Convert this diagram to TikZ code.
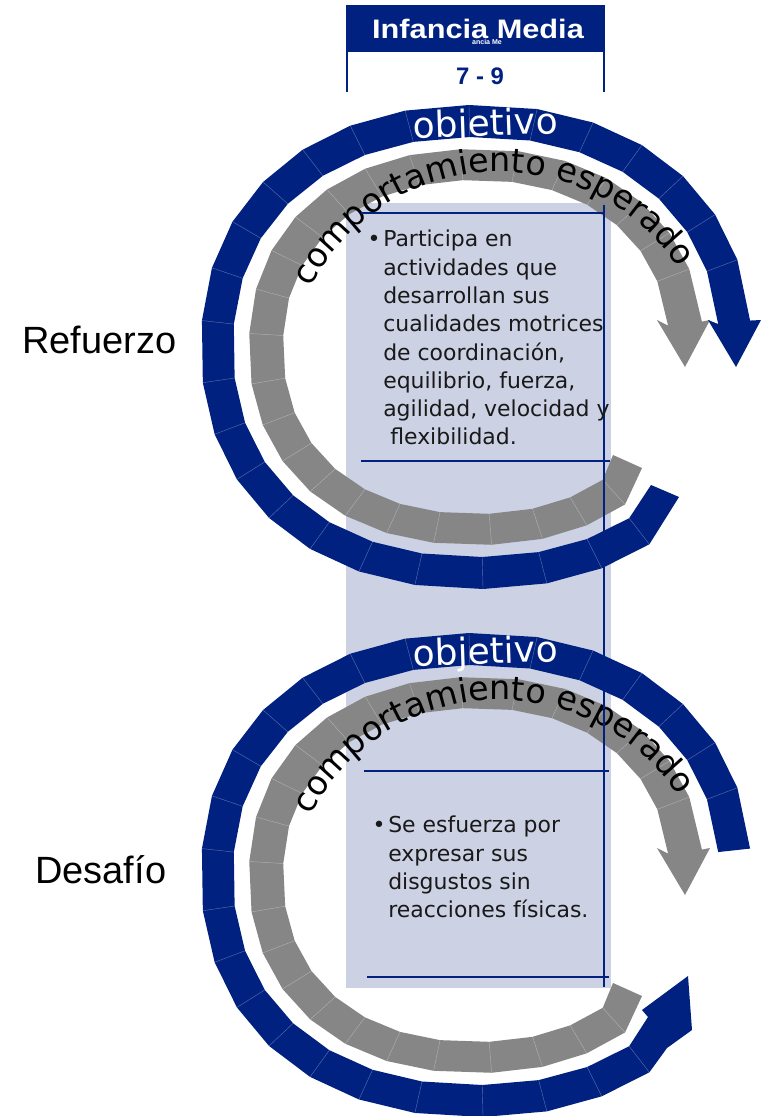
\documentclass[tikz,border=0pt]{standalone}
\usepackage{fontspec}
\setmainfont{DejaVu Sans}
\newfontfamily\labelfont{Liberation Sans}
\usepackage{tikz}
\usetikzlibrary{positioning,decorations.text}
\definecolor{navy}{RGB}{0,33,128}
\definecolor{band}{RGB}{134,134,134}
\definecolor{panel}{RGB}{204,210,228}

\begin{document}
\begin{tikzpicture}[x=0.025cm, y=0.025cm,
    declare function={sx(\t)=(cos(\t)<0 ? -1 : 1)*abs(cos(\t))^0.909;
                      sy(\t)=(sin(\t)<0 ? -1 : 1)*abs(sin(\t))^0.909;},
    seam/.style={white, opacity=0.35, line width=0.3pt},
    rule/.style={navy, line width=1.5pt},
    bullets/.style={anchor=north west, inner sep=0pt, align=left, text=black!90,
        font=\fontsize{15.6}{20.1}\selectfont},
    side/.style={anchor=base west, inner sep=0pt, font=\labelfont\fontsize{27}{30}\selectfont}]
\useasboundingbox (0,0) rectangle (761,-1116);

% light panel behind both cycles
\fill[panel] (346,-203) rectangle (611,-988);

% header
\fill[navy] (346,-5) rectangle (603,-52);
\node[anchor=base, inner sep=0pt, text=white, xscale=1.15,
      font=\labelfont\bfseries\fontsize{19}{20}\selectfont] (title) at (478,-39) {Infancia Media};
\node[anchor=base, inner sep=0pt, text=white,
      font=\labelfont\bfseries\fontsize{5}{6}\selectfont] (ghost) at (487,-45) {ancia Me};
\node[anchor=base, inner sep=0pt, text=navy,
      font=\labelfont\bfseries\fontsize{17}{18}\selectfont] (age) at (480,-85) {7 - 9};
\draw[navy, line width=1.1pt] (347,-52) -- (347,-92);
\draw[navy, line width=1.1pt] (604,-5) -- (604,-92);

\foreach \c in {347, 875} {
    % gray band, head at the upper end
    \fill[band] (710,27-\c) -- (685,-20-\c) -- (657,27-\c)
        -- plot[samples at={6,21,33,...,309}] ({476+193*sx(\x)},{-\c+167*sy(\x)})
        -- (613,-108-\c) -- (642,-121-\c)
        -- plot[samples at={309,297,...,21,6}] ({476+227*sx(\x)},{-\c+198*sy(\x)}) -- cycle;
    % blue band
    \ifnum\c=347
        \fill[navy] (761,27-\c) -- (736,-20-\c) -- (708,27-\c)
            -- plot[samples at={5,19,31,...,307}] ({476+243*sx(\x)},{-\c+210*sy(\x)})
            -- (651,-138-\c) -- (679,-150-\c)
            -- plot[samples at={307,295,...,19,5}] ({476+275*sx(\x)},{-\c+242*sy(\x)}) -- cycle;
    \else
        \fill[navy] (692,-155-\c) -- (688,-101-\c) -- (642,-135-\c) -- (648,-142-\c)
            -- plot[samples at={307,295,...,19,5}] ({476+243*sx(\x)},{-\c+210*sy(\x)})
            -- plot[samples at={5,19,31,...,307}] ({476+275*sx(\x)},{-\c+242*sy(\x)})
            -- (667,-173-\c) -- cycle;
    \fi
    \foreach \t in {19,31,...,307}
        \draw[seam] ({476+243*sx(\t)},{-\c+210*sy(\t)}) -- ({476+275*sx(\t)},{-\c+242*sy(\t)});
    \foreach \t in {21,33,...,309}
        \draw[seam] ({476+193*sx(\t)},{-\c+167*sy(\t)}) -- ({476+227*sx(\t)},{-\c+198*sy(\t)});

    \path[decorate, decoration={text along path, text align=center,
          text={|\fontsize{23.8}{24}\selectfont|comportamiento esperado}}]
        (500,-39-\c) ++(156:214) arc[start angle=156, end angle=30, radius=214];
    \node[anchor=base, inner sep=0pt, text=white, rotate=2,
          font=\fontsize{25.6}{26}\selectfont] (goal\c) at (486,211-\c) {objetivo};
}

% rules on the panel
\draw[rule] (361,-213) -- (604,-213);
\draw[rule] (604,-205) -- (604,-987);
\draw[rule] (361,-461) -- (610,-461);
\draw[rule] (364,-771) -- (609,-771);
\draw[rule] (367,-977) -- (609,-977);

\node[bullets] (tasks) at (383,-230) {\llap{\textbullet\hspace{2pt}}Participa en\\actividades que\\desarrollan sus\\cualidades motrices\\de coordinación,\\equilibrio, fuerza,\\agilidad, velocidad y\\\hspace*{5pt}flexibilidad.};
\node[bullets] (effort) at (388,-816) {\llap{\textbullet\hspace{2pt}}Se esfuerza por\\expresar sus\\disgustos sin\\reacciones físicas.};

\node[side] (reinforce) at (22,-353) {Refuerzo};
\node[side] (challenge) at (35,-883) {Desafío};
\end{tikzpicture}
\end{document}
